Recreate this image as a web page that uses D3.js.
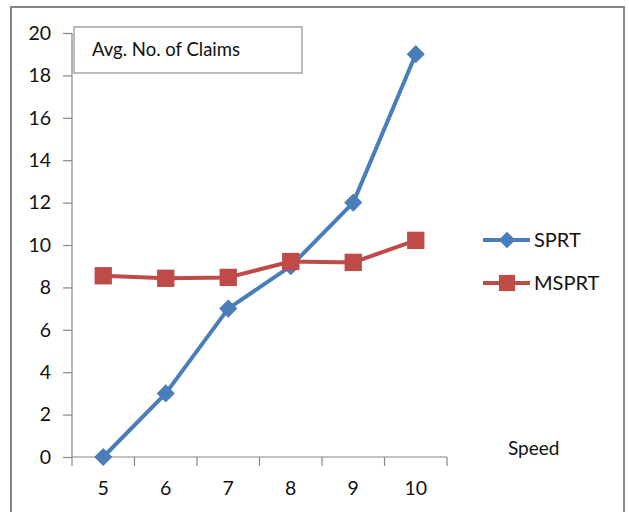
<!DOCTYPE html>
<html><head><meta charset="utf-8">
<script src="https://cdn.jsdelivr.net/npm/d3@7"></script>
<style>body{margin:0;background:#fff}svg{display:block}</style>
</head><body>
<svg id="c" width="629" height="512"></svg>
<script>
const categories = ["5","6","7","8","9","10"];
const sprt = [0, 3, 7, 9, 12, 19];
const msprt = [8.55, 8.43, 8.47, 9.22, 9.18, 10.22];
const yTicks = [0,2,4,6,8,10,12,14,16,18,20];
const seriesNames = ["SPRT","MSPRT"];
const colors = ["#4a7ebb","#be4b48"];

const svg = d3.select("#c");
const font = "Lato, 'Open Sans', sans-serif";
const txt = "#111";
// outer border
svg.append("rect").attr("x",11).attr("y",7).attr("width",613).attr("height",520)
  .attr("fill","#fff").attr("stroke","#868686").attr("stroke-width",2);

const x = d3.scaleBand().domain(categories).range([72,447]);
const y = d3.scaleLinear().domain([0,20]).range([457,33]);

const gx = svg.append("g").attr("transform","translate(0,457)")
  .call(d3.axisBottom(x).tickSize(0).tickPadding(0));
gx.select(".domain").attr("stroke","#868686").attr("stroke-width",1.2).attr("d","M72,0H447");
gx.selectAll("text").attr("font-family",font).attr("font-size",19.5).attr("fill",txt).attr("dy","0").attr("y",38);
const bounds = categories.map(c=>x(c)).concat([x.range()[1]]);
gx.selectAll(".bt").data(bounds).enter().append("line").attr("class","bt")
  .attr("x1",d=>d).attr("x2",d=>d).attr("y1",0).attr("y2",9).attr("stroke","#868686").attr("stroke-width",1.2);

const gy = svg.append("g").attr("transform","translate(72,0)")
  .call(d3.axisLeft(y).tickValues(yTicks).tickSize(9).tickPadding(12));
gy.select(".domain").attr("stroke","#868686").attr("stroke-width",1.2).attr("d","M0,33V457");
gy.selectAll(".tick line").attr("stroke","#868686").attr("stroke-width",1.2);
gy.selectAll("text").attr("font-family",font).attr("font-size",19.5).attr("fill",txt);

// title box
svg.append("rect").attr("x",74).attr("y",27).attr("width",228).attr("height",46)
  .attr("fill","#fff").attr("stroke","#a6a6a6").attr("stroke-width",1.5);
svg.append("text").attr("x",92).attr("y",56).attr("font-family",font).attr("font-size",18.5)
  .attr("fill",txt).text("Avg. No. of Claims");

const cx = c => x(c) + x.bandwidth()/2;
const line = d3.line().x((d,i)=>cx(categories[i])).y(d=>y(d));
const data = [sprt, msprt];
data.forEach((vals,si)=>{
  svg.append("path").attr("d",line(vals)).attr("fill","none").attr("stroke",colors[si])
    .attr("stroke-width",4).attr("stroke-linejoin","round");
  vals.forEach((v,i)=>{
    if(si===0){
      svg.append("path").attr("d",d3.symbol().type(d3.symbolSquare).size(165)())
        .attr("transform",`translate(${cx(categories[i])},${y(v)}) rotate(45)`).attr("fill",colors[si]);
    } else {
      svg.append("path").attr("d",d3.symbol().type(d3.symbolSquare).size(300)())
        .attr("transform",`translate(${cx(categories[i])},${y(v)})`).attr("fill",colors[si]);
    }
  });
});

// legend
const ly = [240, 283];
seriesNames.forEach((n,i)=>{
  const g = svg.append("g");
  g.append("line").attr("x1",483).attr("x2",530).attr("y1",ly[i]).attr("y2",ly[i])
    .attr("stroke",colors[i]).attr("stroke-width",4);
  if(i===0){
    g.append("path").attr("d",d3.symbol().type(d3.symbolSquare).size(140)())
      .attr("transform",`translate(507,${ly[i]}) rotate(45)`).attr("fill",colors[i]);
  } else {
    g.append("path").attr("d",d3.symbol().type(d3.symbolSquare).size(260)())
      .attr("transform",`translate(507,${ly[i]})`).attr("fill",colors[i]);
  }
  g.append("text").attr("x",534).attr("y",ly[i]+7).attr("font-family",font).attr("font-size",20)
    .attr("fill",txt).text(n);
});

svg.append("text").attr("x",508).attr("y",455).attr("font-family",font).attr("font-size",19)
  .attr("fill",txt).text("Speed");
</script>
</body></html>
